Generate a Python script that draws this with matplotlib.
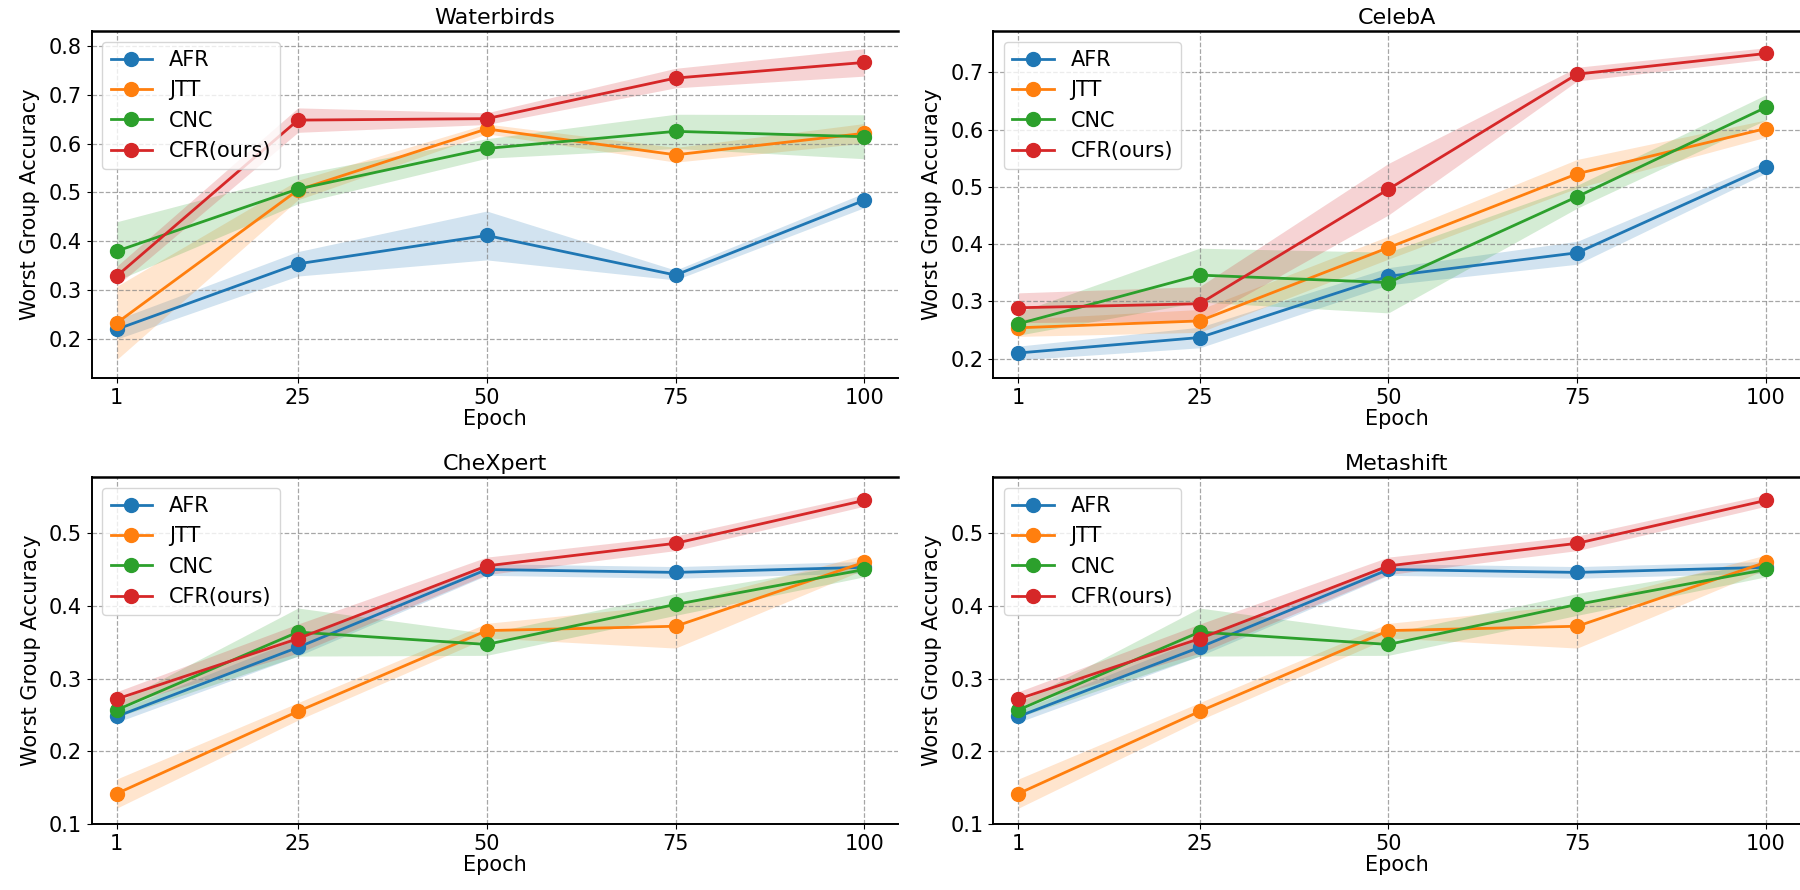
"""Worst group accuracy vs epoch on four datasets, mean +/- std bands."""
import numpy as np
import matplotlib; matplotlib.use("Agg")
import matplotlib.pyplot as plt

EPOCHS = [1, 25, 50, 75, 100]
METHODS = ["AFR", "JTT", "CNC", "CFR(ours)"]
COLORS = ["#1f77b4", "#ff7f0e", "#2ca02c", "#d62728"]

# Waterbirds
wb_mean = {
    "AFR":       [0.220, 0.354, 0.412, 0.331, 0.484],
    "JTT":       [0.233, 0.505, 0.630, 0.577, 0.621],
    "CNC":       [0.380, 0.507, 0.590, 0.625, 0.614],
    "CFR(ours)": [0.329, 0.648, 0.651, 0.734, 0.766],
}
wb_std = {
    "AFR":       [0.020, 0.025, 0.050, 0.010, 0.015],
    "JTT":       [0.075, 0.020, 0.010, 0.015, 0.020],
    "CNC":       [0.060, 0.030, 0.020, 0.035, 0.045],
    "CFR(ours)": [0.020, 0.025, 0.012, 0.020, 0.028],
}
# CelebA
ca_mean = {
    "AFR":       [0.210, 0.237, 0.344, 0.385, 0.534],
    "JTT":       [0.254, 0.266, 0.394, 0.523, 0.602],
    "CNC":       [0.261, 0.346, 0.333, 0.483, 0.639],
    "CFR(ours)": [0.289, 0.296, 0.496, 0.697, 0.733],
}
ca_std = {
    "AFR":       [0.012, 0.018, 0.015, 0.020, 0.010],
    "JTT":       [0.015, 0.020, 0.020, 0.025, 0.015],
    "CNC":       [0.020, 0.047, 0.053, 0.020, 0.022],
    "CFR(ours)": [0.026, 0.030, 0.045, 0.012, 0.010],
}
# CheXpert (Metashift shows the same numbers)
cx_mean = {
    "AFR":       [0.248, 0.343, 0.450, 0.446, 0.453],
    "JTT":       [0.142, 0.255, 0.366, 0.372, 0.460],
    "CNC":       [0.257, 0.364, 0.347, 0.402, 0.450],
    "CFR(ours)": [0.272, 0.355, 0.455, 0.486, 0.545],
}
cx_std = {
    "AFR":       [0.008, 0.012, 0.008, 0.008, 0.008],
    "JTT":       [0.020, 0.012, 0.010, 0.030, 0.010],
    "CNC":       [0.010, 0.033, 0.015, 0.015, 0.010],
    "CFR(ours)": [0.010, 0.020, 0.012, 0.010, 0.008],
}
ms_mean, ms_std = cx_mean, cx_std

PANELS = [
    ("Waterbirds", wb_mean, wb_std, (0.12, 0.83)),
    ("CelebA", ca_mean, ca_std, (0.166, 0.772)),
    ("CheXpert", cx_mean, cx_std, (0.1, 0.577)),
    ("Metashift", ms_mean, ms_std, (0.1, 0.577)),
]

plt.rcParams["font.family"] = "DejaVu Sans"
fig, axes = plt.subplots(2, 2, figsize=(18, 8.9), dpi=100)
fig.subplots_adjust(left=0.051, right=1.0, bottom=0.074, top=0.965,
                    wspace=0.118, hspace=0.285)

for ax, (title, means, stds, ylim) in zip(axes.flat, PANELS):
    for m, c in zip(METHODS, COLORS):
        mu = np.array(means[m]); sd = np.array(stds[m])
        ax.fill_between(EPOCHS, mu - sd, mu + sd, color=c, alpha=0.2, lw=0)
        ax.plot(EPOCHS, mu, color=c, lw=2, marker="o", ms=10, label=m)
    ax.set_xticks(EPOCHS)
    ax.set_xlim(-2.3, 104.5)
    ax.set_ylim(*ylim)
    ax.grid(True, ls="--", color="gray", alpha=0.7, lw=0.9)
    ax.tick_params(labelsize=15)
    ax.set_xlabel("Epoch", fontsize=15, labelpad=1)
    ax.set_ylabel("Worst Group Accuracy", fontsize=15, labelpad=6)
    ax.set_title(title, fontsize=16, pad=5)
    ax.legend(loc="upper left", fontsize=15)
    ax.spines["right"].set_visible(False)
    ax.spines["top"].set_linewidth(1.8)
    ax.spines["left"].set_linewidth(1.4)
    ax.spines["bottom"].set_linewidth(1.4)

plt.savefig("out.png", dpi=100)
plt.close()
